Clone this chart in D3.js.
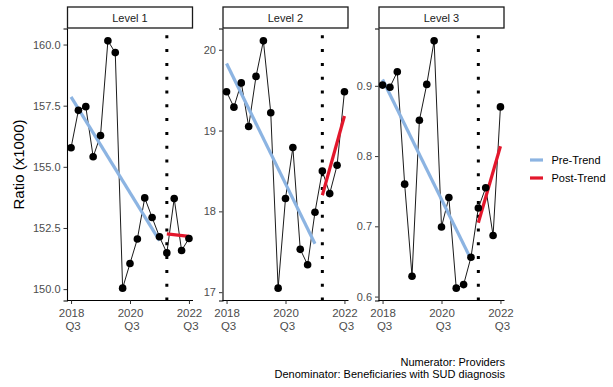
<!DOCTYPE html>
<html>
<head>
<meta charset="utf-8">
<script src="https://cdn.jsdelivr.net/npm/d3@7"></script>
<style>
  html, body { margin: 0; padding: 0; background: #ffffff; }
  svg { display: block; font-family: "Liberation Sans", Arial, Helvetica, sans-serif; }
</style>
</head>
<body>
<svg id="chart" width="613" height="387"></svg>
<script>
// Quarterly ratio (x1000) by level, with pre- and post-intervention trend fits
const quarters = ["2018 Q3","2018 Q4","2019 Q1","2019 Q2","2019 Q3","2019 Q4","2020 Q1","2020 Q2",
                  "2020 Q3","2020 Q4","2021 Q1","2021 Q2","2021 Q3","2021 Q4","2022 Q1","2022 Q2","2022 Q3"];
const levels = ["Level 1", "Level 2", "Level 3"];
const level1 = [155.78,157.31,157.46,155.41,156.28,160.15,159.67,150.04,151.05,152.05,153.73,152.93,152.14,151.48,153.70,151.58,152.07];
const level2 = [19.48,19.29,19.59,19.05,19.67,20.11,19.22,17.05,18.16,18.79,17.53,17.34,17.99,18.50,18.22,18.57,19.48];
const level3 = [0.901,0.898,0.920,0.760,0.629,0.851,0.902,0.964,0.699,0.741,0.612,0.617,0.656,0.726,0.755,0.687,0.870];
// trend line values at the first and last quarter of each period
const preTrend  = [[157.86,151.98],[19.83,17.60],[0.909,0.653]];
const postTrend = [[152.26,152.16],[18.20,19.18],[0.705,0.814]];
const preQuarters  = ["2018 Q3","2021 Q3"];
const postQuarters = ["2021 Q4","2022 Q3"];
const interventionQuarter = "2021 Q4";
const yTicks = [[150.0,152.5,155.0,157.5,160.0],[17,18,19,20],[0.6,0.7,0.8,0.9]];
const yTickFormats = [".1f", "d", ".1f"];
const xTicks = ["2018 Q3","2020 Q3","2022 Q3"];
const legendLabels = ["Pre-Trend","Post-Trend"];
const captionLines = ["Numerator: Providers","Denominator: Beneficiaries with SUD diagnosis"];
const yTitle = "Ratio (x1000)";

const series = [level1, level2, level3];
const colors = { pre: "#8cb4e2", post: "#e3172c" };

const svg = d3.select("#chart");
const panelLefts = [67, 222.5, 378.5];
const panelW = 126;
const panelTop = 28.5, panelBottom = 300.5;
const stripTop = 7;
const textGrey = "#4d4d4d";

levels.forEach((lvl, i) => {
  const vals = series[i];
  const g = svg.append("g").attr("transform", `translate(${panelLefts[i]},0)`);

  const x = d3.scalePoint().domain(quarters).range([0, panelW]).padding(0.55);
  const all = vals.concat(preTrend[i], postTrend[i]);
  const [lo, hi] = d3.extent(all);
  const pad = (hi - lo) * 0.05;
  const y = d3.scaleLinear().domain([lo - pad, hi + pad]).range([panelBottom, panelTop]);

  // strip
  g.append("rect").attr("x", 0.5).attr("y", stripTop).attr("width", panelW - 1)
    .attr("height", panelTop - stripTop - 0.5)
    .attr("fill", "#ffffff").attr("stroke", "#1a1a1a").attr("stroke-width", 1.3);
  g.append("text").attr("x", panelW / 2).attr("y", (stripTop + panelTop) / 2 + 4)
    .attr("text-anchor", "middle").attr("font-size", 11).attr("fill", "#1a1a1a").text(lvl);

  // y axis
  const yAxis = d3.axisLeft(y).tickValues(yTicks[i]).tickFormat(d3.format(yTickFormats[i]))
    .tickSizeOuter(0).tickSize(3.5).tickPadding(3);
  const ya = g.append("g").call(yAxis);
  ya.select(".domain").attr("stroke", "#000").attr("stroke-width", 1.1);
  ya.selectAll(".tick line").attr("stroke", "#333");
  ya.selectAll(".tick text").attr("font-size", 11).attr("fill", textGrey)
    .attr("font-family", "Liberation Sans, Arial, sans-serif");

  // x axis
  const xAxis = d3.axisBottom(x).tickValues(xTicks).tickSizeOuter(0).tickSize(3.5).tickFormat("");
  const xa = g.append("g").attr("transform", `translate(0,${panelBottom})`).call(xAxis);
  xa.select(".domain").attr("stroke", "#000").attr("stroke-width", 1.1)
    .attr("d", `M0,0H${panelW}`);
  xa.selectAll(".tick line").attr("stroke", "#333");
  xa.selectAll(".tick").each(function(d) {
    const parts = d.split(" ");
    const t = d3.select(this).append("text").attr("fill", textGrey).attr("font-size", 11.5)
      .attr("text-anchor", "middle").attr("font-family", "Liberation Sans, Arial, sans-serif");
    t.append("tspan").attr("x", 0).attr("y", 16.5).text(parts[0]);
    t.append("tspan").attr("x", 1.5).attr("y", 29).text(parts[1]);
  });

  // intervention marker
  const xi = x(interventionQuarter);
  g.append("line").attr("x1", xi).attr("x2", xi).attr("y1", panelBottom).attr("y2", panelTop)
    .attr("stroke", "#000").attr("stroke-width", 3).attr("stroke-dasharray", "3 10.8");

  // observed series
  const line = d3.line().x((d, j) => x(quarters[j])).y(d => y(d));
  g.append("path").datum(vals).attr("d", line).attr("fill", "none")
    .attr("stroke", "#000").attr("stroke-width", 0.9);

  // trend fits
  const trend = (qs, v, c) => g.append("line")
    .attr("x1", x(qs[0])).attr("x2", x(qs[1])).attr("y1", y(v[0])).attr("y2", y(v[1]))
    .attr("stroke", c).attr("stroke-width", 3.2);
  trend(preQuarters, preTrend[i], colors.pre);
  trend(postQuarters, postTrend[i], colors.post);

  g.selectAll("circle.pt").data(vals).join("circle").attr("class", "pt")
    .attr("cx", (d, j) => x(quarters[j])).attr("cy", d => y(d)).attr("r", 3.8).attr("fill", "#000");
});

// y title
svg.append("text").attr("transform", `translate(24,${(panelTop + panelBottom) / 2}) rotate(-90)`)
  .attr("text-anchor", "middle").attr("font-size", 15).attr("fill", "#000").text(yTitle);

// legend
const legY = [160, 178];
legendLabels.forEach((lab, k) => {
  svg.append("line").attr("x1", 530).attr("x2", 543).attr("y1", legY[k]).attr("y2", legY[k])
    .attr("stroke", k === 0 ? colors.pre : colors.post).attr("stroke-width", 3.2);
  svg.append("text").attr("x", 551.5).attr("y", legY[k] + 4).attr("font-size", 11)
    .attr("fill", "#000").text(lab);
});

// caption
captionLines.forEach((c, k) => {
  svg.append("text").attr("x", 505).attr("y", 366 + k * 11.5).attr("text-anchor", "end")
    .attr("font-size", 11).attr("fill", "#000").text(c);
});
</script>
</body>
</html>
